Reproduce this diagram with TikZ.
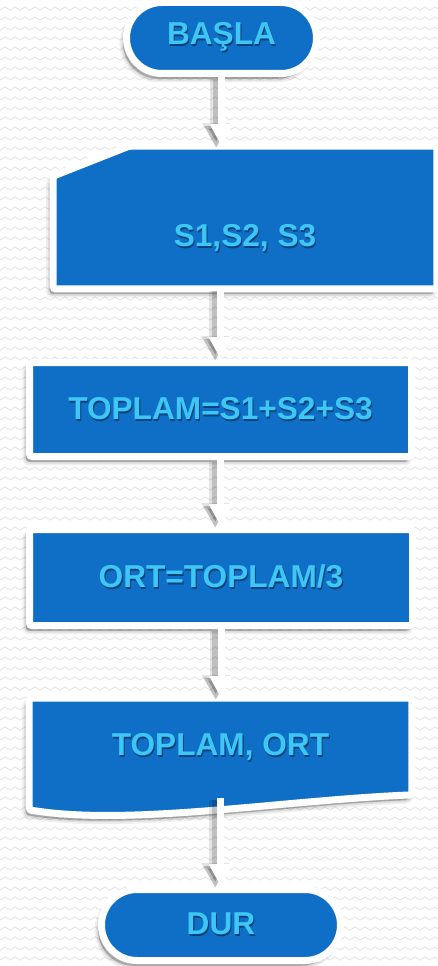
\documentclass[tikz,border=0pt]{standalone}
\usepackage{fontspec}
\setmainfont{Liberation Sans}
\usepackage{xcolor}
\usetikzlibrary{arrows.meta,calc,backgrounds}

\definecolor{flowblue}{RGB}{15,111,198}
\definecolor{labelcyan}{RGB}{62,198,244}
\definecolor{labeldark}{RGB}{8,66,124}
\newcommand{\flowfont}{\fontsize{18}{20}\selectfont\bfseries}
% cyan label with a dark copy just under it
\newcommand{\boxtext}[1]{\makebox[0pt][l]{\hspace{0.6pt}\raisebox{-1pt}{\color{labeldark}#1}}#1}

\begin{document}
\begin{tikzpicture}[
    plain/.style={rectangle, text=labelcyan, font=\flowfont},
    softshadow/.style={
        preaction={fill=black, draw=black, line width=4pt, opacity=0.06, transform canvas={xshift=-2pt,yshift=-3pt}},
        preaction={fill=black, draw=black, line width=2pt, opacity=0.08, transform canvas={xshift=-2pt,yshift=-3pt}},
        preaction={fill=black, opacity=0.12, transform canvas={xshift=-2pt,yshift=-3pt}}},
    shapeline/.style={softshadow, fill=flowblue, draw=white, line width=0.14cm, rounded corners=1.5pt},
    box/.style={plain, shapeline},
    term/.style={box, rounded corners=0.71cm},
    flow/.style={draw=white, line width=0.14cm, -{Triangle[width=0.44cm,length=0.44cm]},
        preaction={draw=black, opacity=0.10, line width=0.24cm, -{Triangle[width=0.54cm,length=0.50cm]},
            transform canvas={xshift=-3pt,yshift=-1pt}},
        preaction={draw=black, opacity=0.16, line width=0.14cm, -{Triangle[width=0.44cm,length=0.44cm]},
            transform canvas={xshift=-3pt,yshift=-1pt}}},
    zigzag/.style={draw=black!9, line width=0.6pt}]

    \useasboundingbox (0,0) rectangle (8.74,-19.32);

    % faint zigzag paper
    \begin{scope}[on background layer]
        \fill[white] (0,0) rectangle (8.74,-19.32);
        \foreach \r in {0,...,97} {
            \draw[zigzag] (0,{-0.2*\r}) \foreach \k in {1,...,44} {-- ++(0.1,0.06) -- ++(0.1,-0.06)};
        }
    \end{scope}

    \node (basla) at (4.43,-0.76) [term, minimum width=3.80cm, minimum height=1.42cm] {\boxtext{BAŞLA}};
    \node (girdi) at (4.90,-4.35) [plain, minimum width=7.66cm, minimum height=2.84cm] {\raisebox{-0.58cm}[0pt][0pt]{\boxtext{S1,S2, S3}}};
    \node (toplam) at (4.41,-8.19) [box, minimum width=7.64cm, minimum height=1.88cm] {\boxtext{TOPLAM=S1+S2+S3}};
    \node (ort) at (4.42,-11.55) [box, minimum width=7.66cm, minimum height=1.92cm] {\boxtext{ORT=TOPLAM/3}};
    \node (cikti) at (4.41,-14.96) [plain, minimum width=7.64cm, minimum height=1.98cm] {\boxtext{TOPLAM, ORT}};
    \node (dur) at (4.42,-18.50) [term, minimum width=4.78cm, minimum height=1.42cm] {\boxtext{DUR}};

    % manual input and document outlines, under the labels
    \begin{scope}[on background layer]
        \draw[shapeline] (girdi.south west) -- ($(girdi.north west)+(0,-0.60)$)
            -- ($(girdi.north west)+(1.52,0)$) -- (girdi.north east) -- (girdi.south east) -- cycle;
        \draw[shapeline] (cikti.north west) -- (cikti.north east) -- ($(cikti.south east)+(0,0.06)$)
            .. controls ($(cikti.south east)+(-2.63,-0.05)$) and ($(cikti.south west)+(2.01,-0.57)$)
            .. ($(cikti.south west)+(0,-0.24)$) -- cycle;
    \end{scope}

    \draw[flow] (basla.south) -- (basla.south |- girdi.north);
    \draw[flow] (toplam.north |- girdi.south) -- (toplam.north);
    \draw[flow] (toplam.south) -- (toplam.south |- ort.north);
    \draw[flow] (ort.south) -- (ort.south |- cikti.north);
    \draw[flow] (cikti.south) -- (cikti.south |- dur.north);

\end{tikzpicture}
\end{document}
